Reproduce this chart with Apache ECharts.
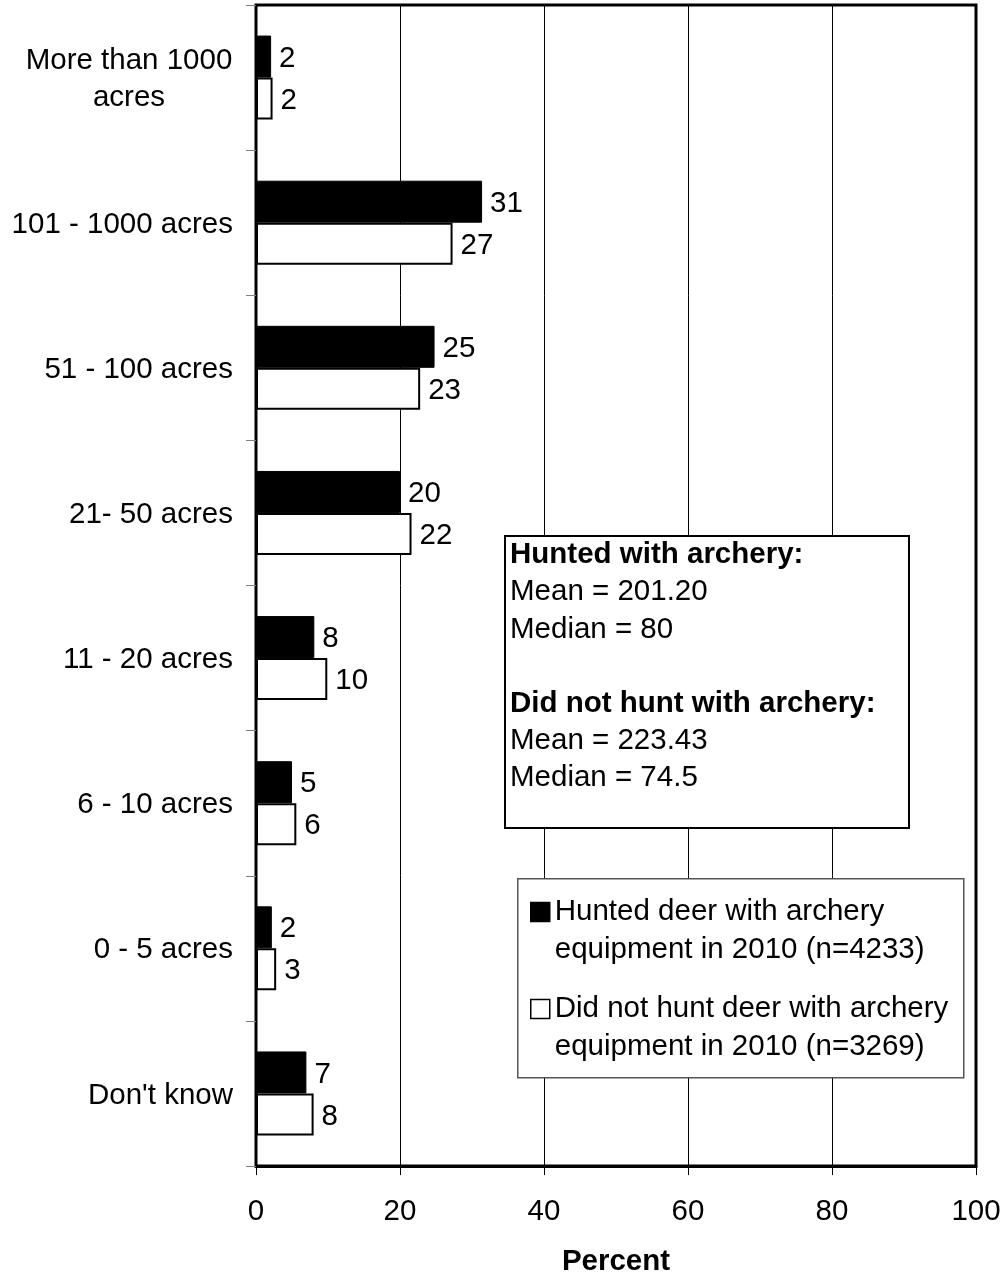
<!DOCTYPE html>
<html>
<head>
<meta charset="utf-8">
<script src="https://cdn.jsdelivr.net/npm/echarts@6/dist/echarts.min.js"></script>
<style>
html,body{margin:0;padding:0;background:#fff;}
#chart{width:1006px;height:1276px;}
</style>
</head>
<body>
<div id="chart"></div>
<script>
const categories = ["More than 1000\nacres", "101 - 1000 acres", "51 - 100 acres", "21- 50 acres", "11 - 20 acres", "6 - 10 acres", "0 - 5 acres", "Don't know"];
const huntedValues = [2.1, 31.4, 24.8, 20.0, 8.1, 5.0, 2.2, 7.0];
const notHuntedValues = [2.3, 27.3, 22.8, 21.6, 9.9, 5.6, 2.8, 8.0];
const seriesNames = ["Hunted deer with archery\nequipment in 2010 (n=4233)", "Did not hunt deer with archery\nequipment in 2010 (n=3269)"];
const xTicks = [0, 20, 40, 60, 80, 100];
const statsLines = ["Hunted with archery:", "Mean = 201.20", "Median = 80", "", "Did not hunt with archery:", "Mean = 223.43", "Median = 74.5"];

const FONT = '"Liberation Sans", Arial, sans-serif';
const FS = 29.5;

const chart = echarts.init(document.getElementById('chart'), null, {renderer: 'canvas'});

const statsText = statsLines.map((s, i) => {
  if (s === '') return '{n| }';
  return (i === 0 || i === 4) ? '{b|' + s + '}' : '{n|' + s + '}';
}).join('\n');

const option = {
  animation: false,
  backgroundColor: '#fff',
  textStyle: {fontFamily: FONT},
  grid: {left: 256, right: 30, top: 5, bottom: 110, show: true, borderColor: '#000', borderWidth: 3,
    containLabel: false, outerBoundsMode: 'none'},
  xAxis: {
    type: 'value', min: xTicks[0], max: xTicks[xTicks.length - 1], interval: 20,
    name: 'Percent', nameLocation: 'middle', nameGap: 81,
    nameTextStyle: {fontFamily: FONT, fontSize: FS, fontWeight: 'bold', color: '#000'},
    axisLine: {show: true, lineStyle: {color: '#000', width: 3}},
    axisTick: {show: true, length: 9, lineStyle: {color: '#000', width: 1}},
    axisLabel: {fontFamily: FONT, fontSize: FS, color: '#000', margin: 31},
    splitLine: {show: true, lineStyle: {color: '#000', width: 1}}
  },
  yAxis: {
    type: 'category', data: categories, inverse: true,
    axisLine: {show: true, lineStyle: {color: '#000', width: 2}},
    axisTick: {show: true, length: 10, lineStyle: {color: '#808080', width: 1}},
    axisLabel: {
      fontFamily: FONT, fontSize: FS, color: '#000', margin: 23,
      lineHeight: 38, padding: [4, 0, 0, 0],
      formatter: function (v) {
        if (v.indexOf('\n') >= 0) {
          return v.split('\n').map(s => '{c|' + s + '}').join('\n');
        }
        return v;
      },
      rich: {c: {width: 208, align: 'center', fontFamily: FONT, fontSize: FS, color: '#000', lineHeight: 37}}
    },
    splitLine: {show: false}
  },
  legend: {
    orient: 'vertical', left: 530, top: 855, padding: 0, z: 20,
    itemWidth: 19, itemHeight: 19, itemGap: -17,
    itemStyle: {borderColor: '#000', borderWidth: 1.5},
    formatter: function (name) { return ' \n' + name; },
    textStyle: {fontFamily: FONT, fontSize: FS, color: '#000', lineHeight: 38},
    data: [{name: seriesNames[0], icon: 'rect'}, {name: seriesNames[1], icon: 'rect'}],
    selectedMode: false
  },
  series: [
    {
      name: seriesNames[0], type: 'bar', data: huntedValues,
      barWidth: 42, barGap: '0%',
      itemStyle: {color: '#000', borderColor: '#000', borderWidth: 1},
      label: {show: true, position: 'right', distance: 8, offset: [0, 2], fontFamily: FONT, fontSize: FS, color: '#000',
        formatter: p => Math.round(p.value)}
    },
    {
      name: seriesNames[1], type: 'bar', data: notHuntedValues,
      barWidth: 42, barGap: '0%',
      itemStyle: {color: '#fff', borderColor: '#000', borderWidth: 2},
      label: {show: true, position: 'right', distance: 8, offset: [0, 2], fontFamily: FONT, fontSize: FS, color: '#000',
        formatter: p => Math.round(p.value)}
    }
  ],
  graphic: [
    {
      type: 'rect', left: 504, top: 535, z: 10,
      shape: {width: 404, height: 292},
      style: {fill: '#fff', stroke: '#000', lineWidth: 2}
    },
    {
      type: 'text', left: 510, top: 540, z: 11,
      style: {
        text: statsText,
        rich: {
          b: {fontFamily: FONT, fontSize: FS, fontWeight: 'bold', fill: '#000', lineHeight: 37.2},
          n: {fontFamily: FONT, fontSize: FS, fill: '#000', lineHeight: 37.2}
        }
      }
    },
    {
      type: 'rect', left: 517, top: 878, z: 3,
      shape: {width: 446, height: 199},
      style: {fill: '#fff', stroke: '#555', lineWidth: 1.5}
    }
  ]
};
chart.setOption(option);
</script>
</body>
</html>
